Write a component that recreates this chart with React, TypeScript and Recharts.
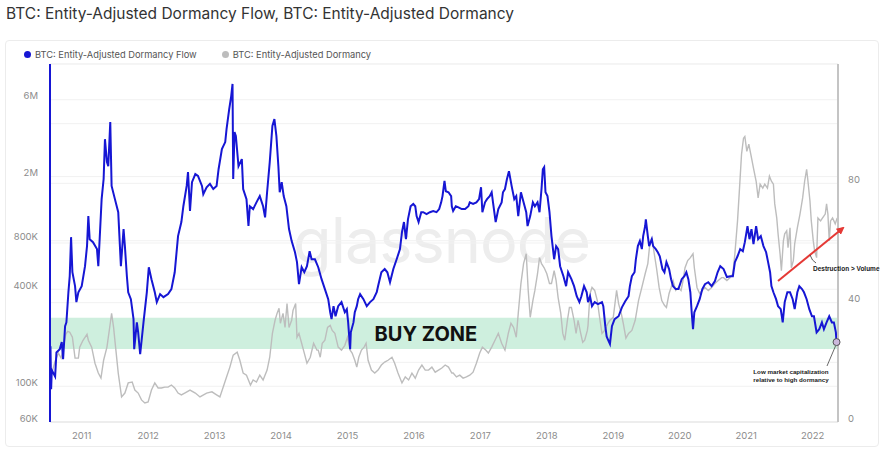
import React from 'react';
import { LineChart, Line, XAxis, YAxis, CartesianGrid, ReferenceArea, ReferenceDot } from 'recharts';

const yearTicks = [2011, 2012, 2013, 2014, 2015, 2016, 2017, 2018, 2019, 2020, 2021, 2022];
const flowTicks = [60000, 100000, 400000, 800000, 2000000, 6000000];
const dormancyTicks = [0, 20, 40, 60, 80, 100, 120];
const dormancyLabels = [0, 40, 80];
const buyZone = [170000, 266000];

// Entity-Adjusted Dormancy Flow: [year, value in K]
const flowPoints: [number, number][] = [
  [2010.53, 177], [2010.54, 96], [2010.55, 126], [2010.6, 115], [2010.62, 162], [2010.67, 170], [2010.7, 188], [2010.72, 147],
  [2010.75, 236], [2010.77, 249], [2010.8, 383], [2010.82, 482], [2010.84, 842], [2010.86, 510], [2010.9, 418], [2010.92, 333],
  [2010.95, 383], [2011.0, 418], [2011.05, 556], [2011.08, 741], [2011.1, 1138], [2011.12, 818], [2011.17, 784], [2011.23, 710],
  [2011.25, 556], [2011.28, 987], [2011.3, 1450], [2011.33, 1933], [2011.35, 3415], [2011.38, 2459], [2011.4, 2320], [2011.43, 4360],
  [2011.45, 1751], [2011.5, 1450], [2011.55, 1203], [2011.59, 556], [2011.63, 945], [2011.65, 741], [2011.68, 482], [2011.7, 383],
  [2011.74, 347], [2011.78, 261], [2011.79, 170], [2011.83, 249], [2011.85, 216], [2011.88, 158], [2011.93, 249], [2011.98, 383],
  [2012.01, 548], [2012.05, 462], [2012.1, 383], [2012.13, 333], [2012.18, 373], [2012.23, 357], [2012.3, 373], [2012.35, 401],
  [2012.4, 510], [2012.45, 855], [2012.5, 1045], [2012.53, 1310], [2012.58, 1751], [2012.6, 2137], [2012.63, 1224], [2012.66, 1847],
  [2012.71, 2073], [2012.75, 2019], [2012.81, 1751], [2012.83, 1557], [2012.88, 1718], [2012.93, 1804], [2012.98, 1675], [2013.03, 1751],
  [2013.06, 2223], [2013.11, 2964], [2013.16, 3276], [2013.18, 3942], [2013.22, 5252], [2013.25, 6326], [2013.27, 7518], [2013.28, 1933],
  [2013.3, 3780], [2013.32, 3576], [2013.36, 2320], [2013.41, 2567], [2013.43, 1675], [2013.48, 1450], [2013.51, 987], [2013.53, 1310],
  [2013.58, 1257], [2013.63, 1385], [2013.68, 1514], [2013.73, 1310], [2013.76, 1117], [2013.79, 1600], [2013.83, 2459], [2013.87, 4124],
  [2013.9, 4554], [2013.93, 3576], [2013.96, 2320], [2013.98, 1600], [2014.01, 1847], [2014.04, 1514], [2014.08, 1310], [2014.12, 945],
  [2014.16, 796], [2014.21, 679], [2014.24, 589], [2014.27, 430], [2014.31, 548], [2014.35, 510], [2014.39, 556], [2014.43, 688],
  [2014.46, 614], [2014.51, 614], [2014.56, 548], [2014.61, 462], [2014.66, 401], [2014.71, 347], [2014.74, 288], [2014.76, 261],
  [2014.79, 314], [2014.82, 272], [2014.86, 314], [2014.91, 333], [2014.96, 288], [2014.99, 301], [2015.01, 249], [2015.04, 170],
  [2015.05, 216], [2015.09, 249], [2015.11, 288], [2015.14, 314], [2015.16, 347], [2015.19, 373], [2015.24, 347], [2015.29, 314],
  [2015.34, 333], [2015.39, 347], [2015.44, 383], [2015.46, 418], [2015.51, 510], [2015.56, 534], [2015.6, 510], [2015.64, 442],
  [2015.69, 534], [2015.74, 614], [2015.79, 710], [2015.82, 904], [2015.85, 1045], [2015.88, 818], [2015.91, 1085], [2015.95, 1310],
  [2015.99, 1353], [2016.02, 1310], [2016.04, 1138], [2016.07, 1045], [2016.11, 1203], [2016.14, 1203], [2016.19, 1171], [2016.24, 1203],
  [2016.29, 1224], [2016.34, 1203], [2016.38, 1257], [2016.41, 1385], [2016.43, 1514], [2016.46, 1880], [2016.48, 1622], [2016.52, 1600],
  [2016.56, 1514], [2016.57, 1310], [2016.59, 1224], [2016.63, 1310], [2016.67, 1289], [2016.72, 1257], [2016.77, 1257], [2016.82, 1310],
  [2016.84, 1385], [2016.89, 1353], [2016.94, 1385], [2016.98, 1450], [2017.01, 1718], [2017.03, 1203], [2017.07, 1385], [2017.1, 1450],
  [2017.14, 1514], [2017.17, 1600], [2017.19, 1385], [2017.23, 1045], [2017.27, 1257], [2017.32, 1385], [2017.34, 1600], [2017.37, 1675],
  [2017.4, 1933], [2017.43, 2159], [2017.47, 1751], [2017.51, 1450], [2017.54, 1514], [2017.57, 1138], [2017.61, 1600], [2017.65, 1385],
  [2017.69, 1203], [2017.71, 987], [2017.75, 1138], [2017.79, 1385], [2017.82, 1310], [2017.86, 1385], [2017.89, 1203], [2017.92, 1675],
  [2017.94, 2223], [2017.96, 2288], [2017.98, 1600], [2018.01, 1514], [2018.04, 1203], [2018.07, 855], [2018.11, 614], [2018.14, 741],
  [2018.17, 710], [2018.2, 556], [2018.25, 482], [2018.29, 418], [2018.32, 510], [2018.37, 462], [2018.41, 418], [2018.45, 362],
  [2018.49, 333], [2018.52, 362], [2018.56, 418], [2018.6, 383], [2018.62, 333], [2018.65, 362], [2018.68, 314], [2018.72, 333],
  [2018.77, 323], [2018.83, 333], [2018.85, 314], [2018.88, 236], [2018.9, 204], [2018.92, 195], [2018.95, 183], [2018.98, 236],
  [2019.02, 261], [2019.08, 272], [2019.13, 309], [2019.18, 337], [2019.23, 362], [2019.25, 418], [2019.28, 482], [2019.32, 510],
  [2019.34, 614], [2019.37, 741], [2019.4, 796], [2019.43, 710], [2019.45, 855], [2019.48, 987], [2019.49, 1085], [2019.52, 855],
  [2019.54, 741], [2019.58, 818], [2019.6, 741], [2019.64, 710], [2019.67, 679], [2019.7, 641], [2019.74, 534], [2019.77, 510],
  [2019.8, 589], [2019.84, 534], [2019.87, 462], [2019.9, 418], [2019.94, 401], [2019.98, 401], [2020.03, 462], [2020.07, 482],
  [2020.1, 510], [2020.13, 462], [2020.16, 383], [2020.18, 288], [2020.2, 226], [2020.22, 288], [2020.26, 314], [2020.3, 347],
  [2020.34, 401], [2020.38, 430], [2020.43, 442], [2020.48, 418], [2020.53, 449], [2020.57, 510], [2020.61, 556], [2020.66, 534],
  [2020.71, 476], [2020.76, 482], [2020.8, 482], [2020.83, 589], [2020.87, 641], [2020.91, 710], [2020.95, 688], [2020.98, 784],
  [2021.02, 987], [2021.05, 818], [2021.08, 945], [2021.11, 763], [2021.15, 987], [2021.18, 818], [2021.22, 855], [2021.26, 741],
  [2021.3, 679], [2021.33, 589], [2021.36, 510], [2021.38, 418], [2021.41, 383], [2021.45, 347], [2021.48, 314], [2021.52, 301],
  [2021.55, 249], [2021.58, 333], [2021.62, 383], [2021.66, 383], [2021.7, 347], [2021.73, 301], [2021.77, 383], [2021.8, 418],
  [2021.84, 401], [2021.87, 383], [2021.91, 347], [2021.95, 301], [2021.99, 272], [2022.02, 272], [2022.06, 216], [2022.1, 226],
  [2022.14, 249], [2022.17, 226], [2022.21, 249], [2022.25, 272], [2022.29, 249], [2022.32, 249], [2022.35, 216], [2022.36, 188],
];

// Entity-Adjusted Dormancy: [year, value]
const dormancyPoints: [number, number][] = [
  [2010.53, 14.1], [2010.55, 16.4], [2010.6, 20.4], [2010.65, 23.1], [2010.69, 21.4], [2010.72, 24.1], [2010.76, 29.4], [2010.79, 30.4],
  [2010.82, 30.1], [2010.86, 28.4], [2010.9, 21.4], [2010.95, 21.4], [2010.97, 25.1], [2011.02, 27.4], [2011.08, 29.4], [2011.1, 27.4],
  [2011.15, 25.1], [2011.2, 19.7], [2011.25, 16.4], [2011.29, 14.7], [2011.33, 20.7], [2011.38, 25.1], [2011.43, 33.1], [2011.45, 36.4],
  [2011.48, 31.7], [2011.51, 25.1], [2011.55, 16.4], [2011.6, 8.4], [2011.65, 9.7], [2011.7, 13.1], [2011.76, 13.4], [2011.8, 10.7],
  [2011.85, 9.7], [2011.9, 7.4], [2011.95, 6.4], [2012.0, 6.7], [2012.05, 10.7], [2012.1, 13.1], [2012.15, 11.4], [2012.2, 11.4],
  [2012.25, 11.7], [2012.3, 11.7], [2012.35, 12.4], [2012.4, 11.4], [2012.45, 9.7], [2012.5, 9.1], [2012.55, 9.7], [2012.63, 10.7],
  [2012.71, 9.7], [2012.78, 8.4], [2012.88, 9.7], [2012.96, 10.1], [2013.03, 9.1], [2013.08, 8.4], [2013.13, 11.7], [2013.18, 15.1],
  [2013.23, 18.4], [2013.28, 22.4], [2013.34, 23.4], [2013.38, 20.7], [2013.43, 16.4], [2013.48, 15.7], [2013.54, 12.4], [2013.58, 14.1],
  [2013.63, 13.4], [2013.68, 15.7], [2013.73, 14.1], [2013.79, 17.4], [2013.83, 21.7], [2013.87, 29.7], [2013.91, 34.1], [2013.94, 36.4],
  [2013.97, 38.1], [2013.99, 33.1], [2014.03, 36.4], [2014.06, 31.7], [2014.09, 39.7], [2014.12, 31.7], [2014.16, 34.1], [2014.18, 37.4],
  [2014.22, 39.7], [2014.24, 28.4], [2014.27, 29.7], [2014.31, 26.4], [2014.35, 23.1], [2014.39, 19.7], [2014.44, 21.7], [2014.49, 26.4],
  [2014.54, 24.1], [2014.56, 24.1], [2014.59, 21.7], [2014.62, 26.4], [2014.66, 27.4], [2014.7, 31.7], [2014.74, 32.4], [2014.77, 30.7],
  [2014.81, 29.7], [2014.86, 25.1], [2014.91, 24.1], [2014.96, 25.7], [2015.0, 28.4], [2015.04, 24.1], [2015.07, 23.1], [2015.11, 20.7],
  [2015.14, 18.4], [2015.17, 21.7], [2015.21, 24.1], [2015.25, 25.1], [2015.28, 26.4], [2015.31, 20.7], [2015.36, 17.4], [2015.41, 16.4],
  [2015.46, 17.4], [2015.51, 19.1], [2015.56, 20.1], [2015.61, 20.7], [2015.67, 21.7], [2015.71, 19.7], [2015.76, 16.4], [2015.82, 13.1],
  [2015.87, 15.1], [2015.92, 14.1], [2015.97, 16.4], [2016.02, 14.7], [2016.07, 17.4], [2016.12, 19.1], [2016.17, 17.4], [2016.22, 17.4],
  [2016.27, 18.4], [2016.32, 16.7], [2016.37, 17.4], [2016.42, 18.1], [2016.47, 19.1], [2016.52, 18.4], [2016.57, 16.4], [2016.59, 16.4],
  [2016.64, 15.1], [2016.69, 15.7], [2016.74, 14.7], [2016.79, 15.1], [2016.84, 15.7], [2016.89, 16.7], [2016.94, 19.7], [2016.99, 23.1],
  [2017.03, 25.1], [2017.08, 24.1], [2017.12, 23.1], [2017.17, 25.1], [2017.22, 27.4], [2017.27, 29.7], [2017.32, 26.4], [2017.37, 24.1],
  [2017.42, 29.7], [2017.46, 33.1], [2017.5, 31.7], [2017.54, 28.4], [2017.57, 36.4], [2017.61, 46.4], [2017.65, 53.1], [2017.69, 56.4],
  [2017.72, 44.1], [2017.75, 35.1], [2017.79, 40.7], [2017.82, 44.1], [2017.86, 49.7], [2017.89, 55.1], [2017.92, 53.1], [2017.96, 51.7],
  [2018.0, 49.7], [2018.04, 46.4], [2018.07, 46.4], [2018.11, 50.7], [2018.14, 47.4], [2018.17, 41.7], [2018.21, 36.4], [2018.24, 29.7],
  [2018.27, 27.4], [2018.31, 34.1], [2018.34, 38.4], [2018.37, 38.4], [2018.41, 34.1], [2018.44, 29.7], [2018.47, 34.1], [2018.51, 29.7],
  [2018.54, 26.7], [2018.57, 27.4], [2018.61, 30.7], [2018.62, 32.4], [2018.65, 43.1], [2018.68, 45.1], [2018.72, 44.1], [2018.76, 40.7],
  [2018.8, 34.1], [2018.83, 29.7], [2018.87, 30.7], [2018.92, 33.1], [2018.95, 34.1], [2019.0, 35.1], [2019.05, 44.1], [2019.08, 39.7],
  [2019.12, 36.4], [2019.15, 33.1], [2019.19, 28.1], [2019.23, 29.7], [2019.28, 30.7], [2019.33, 34.1], [2019.38, 40.7], [2019.43, 45.1],
  [2019.48, 49.7], [2019.52, 53.1], [2019.55, 59.7], [2019.58, 61.7], [2019.61, 57.4], [2019.65, 51.7], [2019.69, 45.1], [2019.73, 40.7],
  [2019.77, 39.1], [2019.8, 38.4], [2019.84, 43.1], [2019.87, 45.1], [2019.9, 47.4], [2019.94, 44.1], [2019.98, 45.1], [2020.02, 44.1],
  [2020.05, 47.4], [2020.08, 51.7], [2020.12, 54.1], [2020.16, 55.1], [2020.2, 56.4], [2020.22, 51.7], [2020.26, 45.1], [2020.3, 43.1],
  [2020.34, 44.1], [2020.38, 45.1], [2020.43, 44.1], [2020.48, 45.1], [2020.53, 46.4], [2020.58, 47.4], [2020.63, 48.4], [2020.66, 48.4],
  [2020.71, 47.4], [2020.76, 48.4], [2020.8, 49.7], [2020.83, 56.4], [2020.87, 67.4], [2020.9, 78.4], [2020.93, 89.7], [2020.96, 95.1],
  [2020.98, 95.7], [2021.01, 90.7], [2021.04, 93.1], [2021.07, 89.7], [2021.11, 85.1], [2021.15, 80.7], [2021.18, 75.1], [2021.21, 79.7],
  [2021.25, 78.4], [2021.28, 79.7], [2021.32, 78.4], [2021.35, 82.4], [2021.38, 80.7], [2021.41, 79.7], [2021.43, 73.1], [2021.46, 68.4],
  [2021.48, 63.1], [2021.51, 56.4], [2021.53, 50.7], [2021.56, 60.7], [2021.58, 63.1], [2021.61, 64.1], [2021.63, 58.4], [2021.66, 65.1],
  [2021.68, 51.7], [2021.71, 54.1], [2021.73, 59.7], [2021.77, 65.1], [2021.81, 69.7], [2021.85, 75.1], [2021.88, 80.7], [2021.91, 84.7],
  [2021.93, 80.7], [2021.96, 74.1], [2021.98, 67.4], [2022.01, 60.7], [2022.03, 57.4], [2022.06, 55.1], [2022.08, 68.4], [2022.12, 67.4],
  [2022.15, 68.4], [2022.19, 69.7], [2022.21, 73.1], [2022.23, 69.7], [2022.25, 60.7], [2022.27, 67.4], [2022.3, 68.4], [2022.34, 66.4],
  [2022.37, 68.4],
];

const flowData = flowPoints.map(([t, v]) => ({ t, flow: v * 1000 }));
const dormancyData = dormancyPoints.map(([t, v]) => ({ t, dormancy: v }));
const lastFlow = flowData[flowData.length - 1];

const BLUE = '#1616d4';
const GRAY = '#bdbdbd';
const FONT = 'Inter, "Noto Sans", sans-serif';

const fmtFlow = (v: number) => (v >= 1e6 ? `${v / 1e6}M` : `${v / 1e3}K`);

const LeftTick = ({ x, y, payload }: any) => (
  <text x={x} y={y - 4} textAnchor="end" dominantBaseline="central" fill="#8c8c8c" fontSize={9.5} fontFamily={FONT}>
    {fmtFlow(payload.value)}
  </text>
);

const RightTick = ({ x, y, payload }: any) =>
  dormancyLabels.includes(payload.value) ? (
    <text x={x} y={y - 4} textAnchor="start" dominantBaseline="central" fill="#8c8c8c" fontSize={9.5} fontFamily={FONT}>
      {payload.value}
    </text>
  ) : (
    <g />
  );

const BuyZoneText = ({ cx, cy }: any) => (
  <text x={cx} y={cy} textAnchor="middle" dominantBaseline="central" fill="#111" fontSize={20} fontWeight={700} fontFamily={FONT}>
    BUY ZONE
  </text>
);

export default function App() {
  return (
    <div style={{ position: 'absolute', left: 0, top: 0, width: 884, height: 452, background: '#fff', fontFamily: FONT }}>
      <div style={{ position: 'absolute', left: 6, top: 4, fontSize: 15.5, fontWeight: 400, color: '#333', whiteSpace: 'nowrap' }}>
        BTC: Entity-Adjusted Dormancy Flow, BTC: Entity-Adjusted Dormancy
      </div>
      <div style={{ position: 'absolute', left: 5, top: 40, width: 872, height: 405, border: '1px solid #ececec', borderRadius: 4 }} />

      {/* watermark */}
      <svg width={884} height={452} style={{ position: 'absolute', left: 0, top: 0 }}>
        <text x={293} y={263} fontSize={63} fontWeight={400} fill="#ededed" fontFamily={FONT} letterSpacing={-1}>
          glassnode
        </text>
      </svg>

      <div style={{ position: 'absolute', left: 24, top: 49, display: 'flex', alignItems: 'center', fontSize: 9.3, color: '#555', whiteSpace: 'nowrap' }}>
        <span style={{ width: 7, height: 7, borderRadius: 4, background: BLUE, display: 'inline-block', marginRight: 4 }} />
        <span>BTC: Entity-Adjusted Dormancy Flow</span>
        <span style={{ width: 7, height: 7, borderRadius: 4, background: GRAY, display: 'inline-block', marginLeft: 25, marginRight: 4 }} />
        <span>BTC: Entity-Adjusted Dormancy</span>
      </div>

      <div style={{ position: 'absolute', left: 0, top: 0 }}>
        <LineChart width={884} height={452} margin={{ top: 64, right: 0, bottom: 9, left: 0 }}>
          <CartesianGrid yAxisId="right" vertical={false} stroke="#f1f1f1" />
          <CartesianGrid yAxisId="left" vertical={false} stroke="#f1f1f1" />
          <XAxis
            dataKey="t"
            type="number"
            domain={[2010.523, 2022.382]}
            allowDataOverflow
            ticks={yearTicks}
            interval={0}
            height={21}
            tickLine={false}
            tickMargin={4}
            axisLine={{ stroke: '#e6e6e6' }}
            tick={{ fill: '#8c8c8c', fontSize: 9.5, fontFamily: FONT }}
          />
          <YAxis
            yAxisId="left"
            orientation="left"
            scale="log"
            domain={[60000, 10000000]}
            allowDataOverflow
            ticks={flowTicks}
            interval={0}
            width={50}
            tickLine={false}
            tickMargin={6}
            axisLine={{ stroke: BLUE, strokeWidth: 2 }}
            tick={<LeftTick />}
          />
          <YAxis
            yAxisId="right"
            orientation="right"
            domain={[0, 120]}
            allowDataOverflow
            ticks={dormancyTicks}
            interval={0}
            width={46}
            tickLine={false}
            tickMargin={4}
            axisLine={{ stroke: '#c4c4c4', strokeWidth: 2 }}
            tick={<RightTick />}
          />
          <ReferenceArea yAxisId="left" y1={buyZone[0]} y2={buyZone[1]} fill="#c6ecd8" fillOpacity={0.85} stroke="none" />
          <Line
            yAxisId="right"
            data={dormancyData}
            dataKey="dormancy"
            type="linear"
            stroke={GRAY}
            strokeWidth={1.4}
            dot={false}
            isAnimationActive={false}
          />
          <Line
            yAxisId="left"
            data={flowData}
            dataKey="flow"
            type="linear"
            stroke={BLUE}
            strokeWidth={2}
            dot={false}
            isAnimationActive={false}
          />
          <ReferenceDot yAxisId="left" x={2016.18} y={212000} shape={<BuyZoneText />} />
          <ReferenceDot yAxisId="left" x={lastFlow.t} y={lastFlow.flow} r={3.5} fill="#cbb9dc" stroke="#333" strokeWidth={0.8} />
        </LineChart>
      </div>

      {/* annotations */}
      <svg width={884} height={452} style={{ position: 'absolute', left: 0, top: 0, pointerEvents: 'none' }}>
        <defs>
          <marker id="redHead" markerWidth={8} markerHeight={8} refX={6} refY={4} orient="auto" markerUnits="userSpaceOnUse">
            <path d="M0,0 L8,4 L0,8 z" fill="#e53935" />
          </marker>
        </defs>
        <line x1={778} y1={281} x2={843} y2={228} stroke="#e53935" strokeWidth={2} markerEnd="url(#redHead)" />
        <path d="M810,255 Q812,261 816,263" fill="none" stroke="#333" strokeWidth={0.8} />
        <text x={813} y={268} dominantBaseline="central" fontSize={6.5} fontWeight={700} fill="#1a1a1a" fontFamily="Liberation Sans, Arial, sans-serif">
          Destruction &gt; Volume
        </text>
        <line x1={835.5} y1={346} x2={827} y2={366} stroke="#444" strokeWidth={0.8} />
        <text x={791} y={371} textAnchor="middle" dominantBaseline="central" fontSize={6.2} fontWeight={700} fill="#1a1a1a" fontFamily="Liberation Sans, Arial, sans-serif">
          Low market capitalization
        </text>
        <text x={791} y={379} textAnchor="middle" dominantBaseline="central" fontSize={6.2} fontWeight={700} fill="#1a1a1a" fontFamily="Liberation Sans, Arial, sans-serif">
          relative to high dormancy
        </text>
      </svg>
    </div>
  );
}
